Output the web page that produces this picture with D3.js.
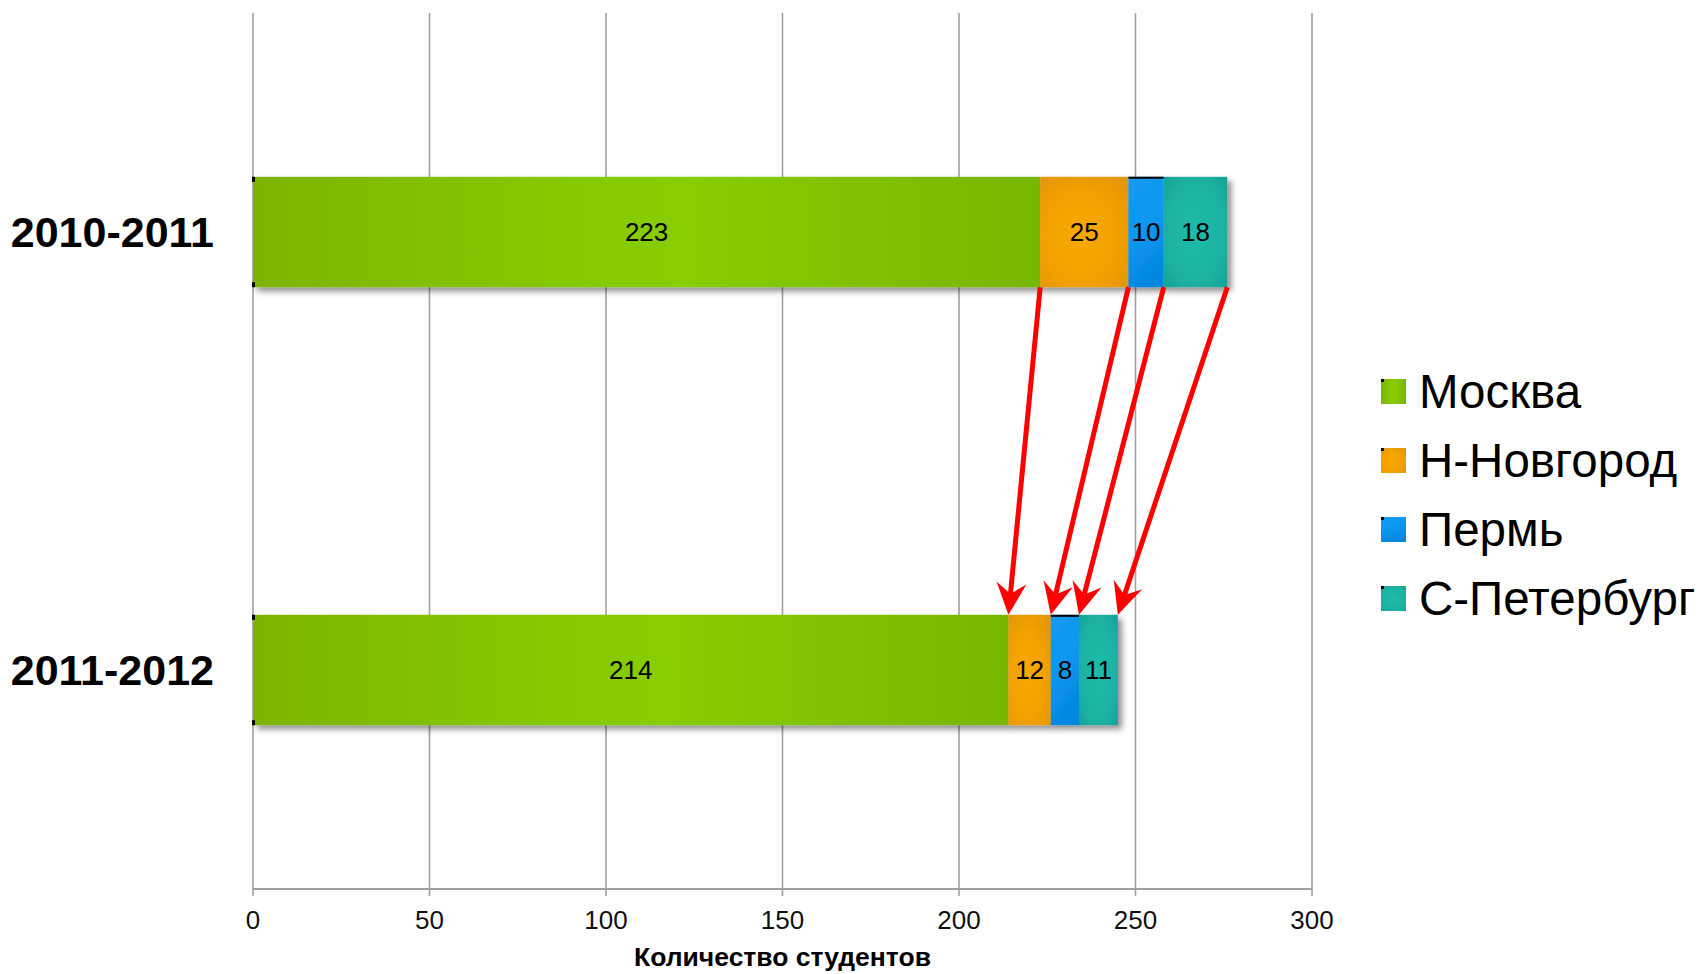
<!DOCTYPE html>
<html><head><meta charset="utf-8">
<script src="https://cdn.jsdelivr.net/npm/d3@7"></script>
<style>body{margin:0;background:#fff} svg{display:block} text{font-family:"Liberation Sans",Arial,sans-serif}</style>
</head><body><svg id="c" width="1700" height="974"></svg>
<script>
const years = ["2010-2011", "2011-2012"];
const cities = ["Москва", "Н-Новгород", "Пермь", "С-Петербург"];
const moscow = [223, 214];
const nnovgorod = [25, 12];
const perm = [10, 8];
const spb = [18, 11];
const xTicks = [0, 50, 100, 150, 200, 250, 300];
const axisTitle = "Количество студентов";

const seriesVals = [moscow, nnovgorod, perm, spb];
const rows = years.map((y, i) => {
  const r = {year: y};
  cities.forEach((c, j) => r[c] = seriesVals[j][i]);
  return r;
});

const svg = d3.select("#c");
const x = d3.scaleLinear().domain([0, 300]).range([253, 1312]);
const y = d3.scaleBand().domain(years).range([13, 889]).padding(0);
const barH = y.bandwidth() * 0.252;
const barTop = d => y(d) + (y.bandwidth() - barH) / 2;

const defs = svg.append("defs");
const f = defs.append("filter").attr("id", "sh").attr("x", "-5%").attr("y", "-20%").attr("width", "115%").attr("height", "150%");
f.append("feDropShadow").attr("dx", 4).attr("dy", 4).attr("stdDeviation", 3).attr("flood-color", "#000").attr("flood-opacity", 0.45);

function lin(id, stops, x2, y2) {
  const g = defs.append("linearGradient").attr("id", id).attr("x1", 0).attr("y1", 0).attr("x2", x2).attr("y2", y2);
  stops.forEach(s => g.append("stop").attr("offset", s[0]).attr("stop-color", s[1]));
}
function rad(id, stops, cx, cy, r) {
  const g = defs.append("radialGradient").attr("id", id).attr("cx", cx).attr("cy", cy).attr("r", r);
  stops.forEach(s => g.append("stop").attr("offset", s[0]).attr("stop-color", s[1]));
}
lin("g0", [[0, "#7db300"], [0.4, "#85c900"], [0.55, "#87cd00"], [0.85, "#7dbd00"], [1, "#77b600"]], 1, 0);
rad("g1", [[0, "#f8a800"], [0.55, "#f3a100"], [1, "#e0930c"]], 0.45, 0.55, 0.75);
lin("g2", [[0, "#1799ec"], [0.5, "#0a98f2"], [1, "#0587e0"]], 0.3, 1);
rad("g3", [[0, "#1fbcaa"], [0.6, "#1cb2a3"], [1, "#15a092"]], 0.5, 0.5, 0.75);
const fills = ["url(#g0)", "url(#g1)", "url(#g2)", "url(#g3)"];

// grid
svg.append("g").selectAll("line").data(xTicks).join("line")
  .attr("x1", d => x(d)).attr("x2", d => x(d)).attr("y1", 13).attr("y2", 896)
  .attr("stroke", "#a0a0a0").attr("stroke-width", 1.6);
svg.append("line").attr("x1", x(0)).attr("x2", x(300)).attr("y1", 889).attr("y2", 889)
  .attr("stroke", "#a0a0a0").attr("stroke-width", 2.2);

// tick labels
svg.append("g").selectAll("text").data(xTicks).join("text")
  .attr("x", d => x(d)).attr("y", 920).attr("text-anchor", "middle").attr("dominant-baseline", "central")
  .attr("font-size", 26).attr("fill", "#111").text(d => d);
svg.append("text").attr("x", (x(0) + x(300)) / 2).attr("y", 957).attr("text-anchor", "middle")
  .attr("dominant-baseline", "central").attr("font-size", 26.5).attr("font-weight", "bold").text(axisTitle);

// category labels
svg.append("g").selectAll("text").data(years).join("text")
  .attr("x", 214).attr("y", d => y(d) + y.bandwidth() / 2).attr("text-anchor", "end")
  .attr("dominant-baseline", "central").attr("font-size", 43).attr("font-weight", "bold").text(d => d);

// bars
const stack = d3.stack().keys(cities)(rows);
const barsG = svg.append("g").attr("filter", "url(#sh)");
stack.forEach((s, j) => {
  barsG.selectAll(null).data(s).join("rect")
    .attr("x", d => x(d[0])).attr("width", d => x(d[1]) - x(d[0]))
    .attr("y", d => barTop(d.data.year)).attr("height", barH)
    .attr("fill", fills[j]);
});
// small artefact marks
svg.append("g").selectAll("rect").data(years).join("rect")
  .attr("x", x(0) - 1).attr("y", d => barTop(d)).attr("width", 3).attr("height", 5).attr("fill", "#000");
svg.append("g").selectAll("rect").data(years).join("rect")
  .attr("x", x(0) - 1).attr("y", d => barTop(d) + barH - 5).attr("width", 3).attr("height", 5).attr("fill", "#000");
svg.append("g").selectAll("line").data(stack[2]).join("line")
  .attr("x1", d => x(d[0])).attr("x2", d => x(d[1]))
  .attr("y1", d => barTop(d.data.year) + 1).attr("y2", d => barTop(d.data.year) + 1)
  .attr("stroke", "#000").attr("stroke-width", 2);

// value labels
stack.forEach((s, j) => {
  svg.append("g").selectAll("text").data(s).join("text")
    .attr("x", d => (x(d[0]) + x(d[1])) / 2).attr("y", d => barTop(d.data.year) + barH / 2)
    .attr("text-anchor", "middle").attr("dominant-baseline", "central")
    .attr("font-size", 26).attr("fill", "#000").text(d => d[1] - d[0]);
});

// arrows
const yFrom = barTop(years[0]) + barH;
const yTo = barTop(years[1]);
const arrowsG = svg.append("g");
stack.forEach((s, j) => {
  const x1 = x(s[0][1]), x2 = x(s[1][1]);
  const dx = x2 - x1, dy = yTo - yFrom, len = Math.hypot(dx, dy);
  const ux = dx / len, uy = dy / len, nx = -uy, ny = ux;
  const L = 32, W = 15, notch = 11;
  const bx = x2 - ux * L, by = yTo - uy * L;
  const mx = x2 - ux * (L - notch), my = yTo - uy * (L - notch);
  arrowsG.append("line").attr("x1", x1).attr("y1", yFrom).attr("x2", mx).attr("y2", my)
    .attr("stroke", "#ff0000").attr("stroke-width", 5);
  arrowsG.append("polygon")
    .attr("points", [[x2, yTo], [bx + nx * W, by + ny * W], [mx, my], [bx - nx * W, by - ny * W]].map(p => p.join(",")).join(" "))
    .attr("fill", "#ff0000");
});

// legend
const leg = svg.append("g").selectAll("g").data(cities).join("g")
  .attr("transform", (d, i) => `translate(1381, ${379 + i * 69})`);
leg.append("rect").attr("width", 25).attr("height", 25).attr("fill", (d, i) => fills[i]);
leg.append("rect").attr("width", 3).attr("height", 3).attr("fill", "#000");
leg.append("text").attr("x", 38).attr("y", 12).attr("dominant-baseline", "central")
  .attr("font-size", 47.5).attr("fill", "#000").text(d => d);
</script></body></html>
